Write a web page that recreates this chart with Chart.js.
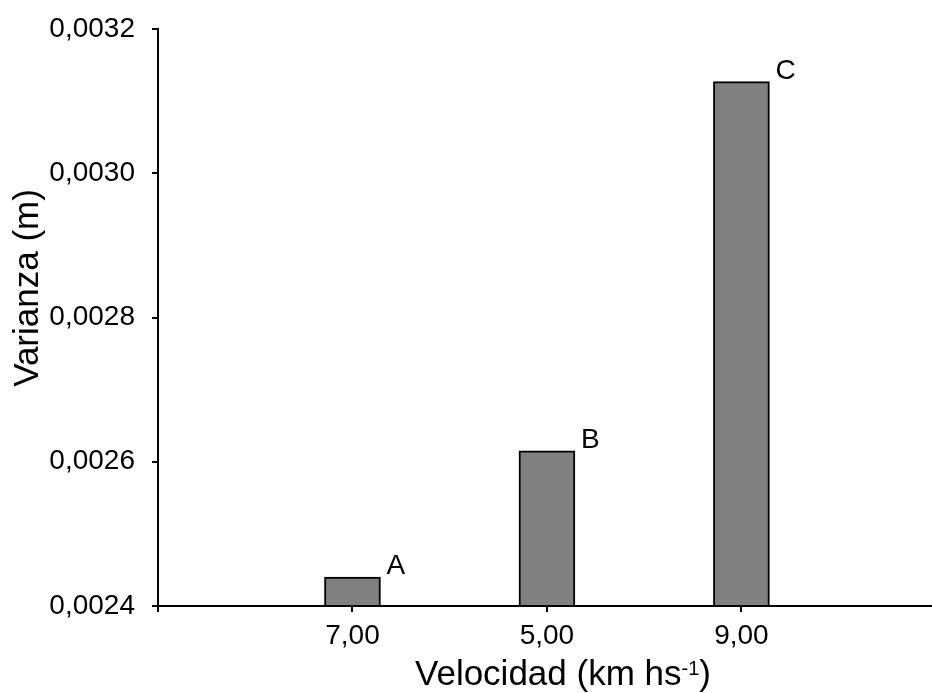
<!DOCTYPE html>
<html>
<head>
<meta charset="utf-8">
<title>Varianza vs Velocidad</title>
<script src="https://cdn.jsdelivr.net/npm/chart.js@4.4.1/dist/chart.umd.min.js"></script>
<style>
  html, body { margin: 0; padding: 0; background: #fff; }
  #wrap { width: 932px; height: 693px; position: relative; }
</style>
</head>
<body>
<div id="wrap"><canvas id="chart"></canvas></div>
<script>
// data
const categories = ["7,00", "5,00", "9,00"];
const varianza = [0.00244, 0.002615, 0.003127];
const letters = ["A", "B", "C"];

const yMin = 0.0024;
const yMax = 0.0032;
const yStep = 0.0002;

const yTitle = "Varianza (m)";
const xTitle = "Velocidad (km hs";
const xTitleSup = "-1";
const xTitleEnd = ")";

const FONT = "'Liberation Sans', Arial, Helvetica, sans-serif";

// bars sit at x = 1, 2, 3 on a linear axis, like the original spacing
const points = varianza.map((v, i) => ({ x: i + 1, y: v }));

// letters at the bars + axis titles (x title needs a superscript)
const annotate = {
  id: "annotate",
  afterDraw(chart) {
    const ctx = chart.ctx;
    const area = chart.chartArea;
    const meta = chart.getDatasetMeta(0);
    ctx.save();
    ctx.fillStyle = "#000";
    ctx.textAlign = "left";
    ctx.textBaseline = "alphabetic";

    ctx.font = "28px " + FONT;
    meta.data.forEach((bar, i) => {
      ctx.fillText(letters[i], bar.x + bar.width / 2 + 6, bar.y - 3);
    });

    // x title
    let x = area.left + 257;
    const y = area.bottom + 79;
    ctx.font = "35px " + FONT;
    ctx.fillText(xTitle, x, y);
    x += ctx.measureText(xTitle).width;
    ctx.font = "20px " + FONT;
    ctx.fillText(xTitleSup, x, y - 10);
    x += ctx.measureText(xTitleSup).width;
    ctx.font = "35px " + FONT;
    ctx.fillText(xTitleEnd, x, y);

    // y title
    ctx.translate(38, area.top + 259);
    ctx.rotate(-Math.PI / 2);
    ctx.textAlign = "center";
    ctx.fillText(yTitle, 0, 0);
    ctx.restore();
  }
};

new Chart(document.getElementById("chart"), {
  type: "bar",
  data: {
    datasets: [
      {
        label: "Varianza",
        data: points,
        base: yMin,
        backgroundColor: "#808080",
        borderColor: "#000",
        borderWidth: 2,
        borderSkipped: "start",
        barThickness: 56
      }
    ]
  },
  options: {
    responsive: true,
    maintainAspectRatio: false,
    animation: false,
    layout: { padding: { top: 29, right: 0, bottom: 0, left: 0 } },
    plugins: {
      legend: { display: false },
      tooltip: { enabled: false }
    },
    scales: {
      x: {
        type: "linear",
        min: 0,
        max: 3.98,
        offset: false,
        afterFit: (scale) => { scale.height = 87; },
        ticks: {
          stepSize: 1,
          includeBounds: false,
          autoSkip: false,
          maxRotation: 0,
          padding: 7,
          color: "#000",
          font: { family: FONT, size: 28 },
          callback: (v) => categories[v - 1] || ""
        },
        grid: {
          display: true,
          offset: false,
          drawOnChartArea: false,
          drawTicks: true,
          tickLength: 6,
          lineWidth: 2,
          color: "#000"
        },
        border: { display: true, color: "#000", width: 2 }
      },
      y: {
        min: yMin,
        max: yMax,
        afterFit: (scale) => { scale.width = 158; },
        ticks: {
          stepSize: yStep,
          padding: 17,
          color: "#000",
          font: { family: FONT, size: 28, lineHeight: 0.8 },
          callback: (v) => Number(v).toFixed(4).replace(".", ",")
        },
        grid: {
          display: true,
          drawOnChartArea: false,
          drawTicks: true,
          tickLength: 6,
          lineWidth: 2,
          color: "#000"
        },
        border: { display: true, color: "#000", width: 2 }
      }
    }
  },
  plugins: [annotate]
});
</script>
</body>
</html>
